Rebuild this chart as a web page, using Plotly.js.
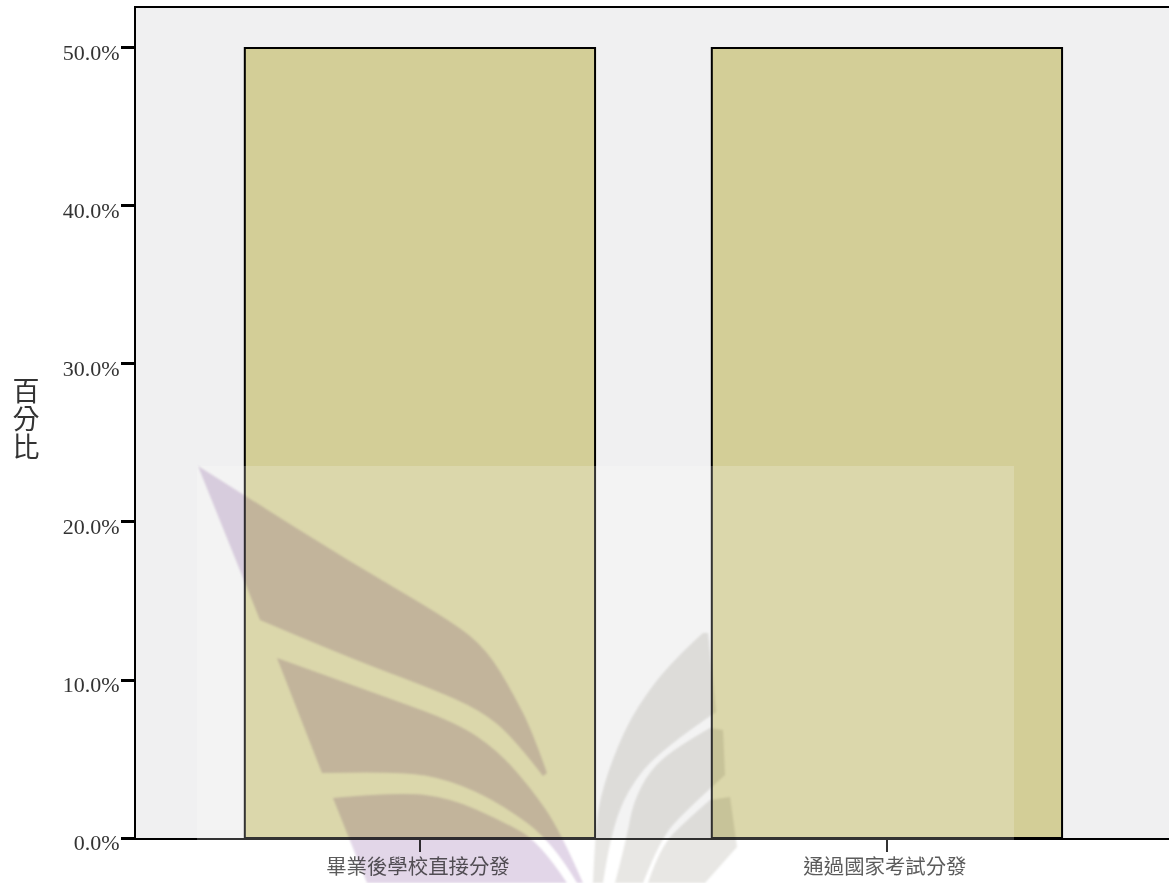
<!DOCTYPE html>
<html><head><meta charset="utf-8">
<script src="https://cdn.plot.ly/plotly-3.0.1.min.js"></script>
<style>html,body{margin:0;padding:0;background:#fff;overflow:hidden}#c{width:1169px;height:883px}</style>
</head><body><div id="c"></div>
<script>
const categories = ['畢業後學校直接分發', '通過國家考試分發'];
const percents = [50, 50];
const yTickValues = [0, 10, 20, 30, 40, 50];
const yTickLabels = ['0.0%', '10.0%', '20.0%', '30.0%', '40.0%', '50.0%'];
const yTitleText = '百分比';

// Watermark outlines in page pixels (decoration only, not data); third element 1 marks a sharp corner
const W = 1169, H = 883, ML = 136, MR = 0, MT = 8, MB = 45;
const px = x => ((x - ML) / (W - ML - MR)).toFixed(5);
const py = y => (1 - (y - MT) / (H - MT - MB)).toFixed(5);
const pt = p => px(p[0]) + ',' + py(p[1]);
function path(pts) {
  const n = pts.length;
  let d = 'M' + pt(pts[0]);
  for (let i = 1; i <= n; i++) {
    const p = pts[i % n];
    if (p[2]) {
      const q = pts[i - 1];
      if (q[2]) d += 'L' + pt(p);
      continue;
    }
    const nx = pts[(i + 1) % n];
    const end = nx[2] ? nx : [(p[0] + nx[0]) / 2, (p[1] + nx[1]) / 2];
    d += 'Q' + pt(p) + ' ' + pt(end);
  }
  return d + 'Z';
}
const leafPurple = [
 [[198,466,1],[247,497],[347,560],[453,622],[487,650],[513,693],[533,733],[547,773,1],[543,776,1],[513,737],[480,710],[430,688],[347,657],[260,620,1]],
 [[277,658,1],[380,695],[457,723],[497,750],[530,787],[560,830],[583,883,1],[577,883,1],[553,842],[500,803],[450,780],[400,771],[322,773,1]],
 [[333,798,1],[400,792],[450,798],[500,820],[540,842],[567,883,1],[367,883,1]]
];
const leafGrey = [
 [[703,633,1],[708,633,1],[716,712,1],[660,750],[627,790],[610,837],[603,883,1],[593,883,1],[595,837],[600,797],[617,747],[637,707],[670,663]],
 [[710,728,1],[723,730,1],[725,775,1],[683,813],[660,840],[643,883,1],[615,883,1],[627,837],[633,803],[650,770],[677,747]],
 [[710,800,1],[730,797,1],[737,847,1],[705,883,1],[648,883,1],[660,847],[687,820]]
];
const shape = (p, c) => ({type:'path', xref:'paper', yref:'paper', path:path(p), fillcolor:c, line:{width:0}, layer:'above'});
const shapes = [
 {type:'rect', xref:'paper', yref:'paper', x0:px(197), x1:px(1014), y0:py(883), y1:py(466),
  fillcolor:'rgba(255,255,255,0.2)', line:{width:0}, layer:'above'},
 ...leafPurple.map(p => shape(p, 'rgb(226,214,232)')),
 ...leafGrey.map(p => shape(p, 'rgb(232,231,228)'))
];

const cjk = '"Noto Sans CJK TC", sans-serif';
Plotly.newPlot('c', [{
  type:'bar', x:categories, y:percents,
  marker:{color:'#d3ce97', line:{color:'#000', width:2}}, hoverinfo:'skip'
}], {
  width:W, height:H, showlegend:false, bargap:0.25,
  margin:{l:ML, r:MR, t:MT, b:MB, pad:0},
  paper_bgcolor:'#fff', plot_bgcolor:'#f0f0f1',
  xaxis:{type:'category', range:[-0.608,1.604], showgrid:false, zeroline:false,
    showline:true, linecolor:'#000', linewidth:2, mirror:true,
    ticks:'outside', ticklen:12, tickwidth:2, tickcolor:'#000',
    ticklabelstandoff:-2, ticklabelshift:-2,
    tickfont:{family:cjk, size:20.4, color:'#333'}},
  yaxis:{range:[0,52.53], showgrid:false, zeroline:false, tickmode:'array',
    tickvals:yTickValues, ticktext:yTickLabels,
    showline:true, linecolor:'#000', linewidth:2,
    ticks:'outside', ticklen:13, tickwidth:3, tickcolor:'#000',
    ticklabelshift:4, ticklabelstandoff:-3,
    tickfont:{family:'"Liberation Serif", serif', size:22, color:'#333'}},
  annotations:[{text:yTitleText, xref:'paper', yref:'paper', x:px(26), y:py(418),
    xanchor:'center', yanchor:'middle', showarrow:false, font:{family:cjk, size:27, color:'#333'}}],
  shapes
}, {displayModeBar:false, staticPlot:true}).then(() => {
  document.querySelectorAll('.layer-above .shapelayer path').forEach((el, i) => {
    if (i > 0) {
      el.style.mixBlendMode = 'multiply';
      el.style.filter = 'blur(1.2px)';
    }
  });
  // Stack the axis title vertically, as in the reference
  const t = document.querySelector('.annotation-text');
  if (t) {
    t.setAttribute('writing-mode', 'vertical-rl');
    t.style.writingMode = 'vertical-rl';
    t.style.letterSpacing = '1px';
    const b = t.getBoundingClientRect();
    t.setAttribute('x', parseFloat(t.getAttribute('x')) + 26 - (b.left + b.right) / 2);
    t.setAttribute('y', parseFloat(t.getAttribute('y')) + 419 - (b.top + b.bottom) / 2);
    const bg = document.querySelector('.annotation rect');
    if (bg) bg.style.display = 'none';
  }
});
</script></body></html>
